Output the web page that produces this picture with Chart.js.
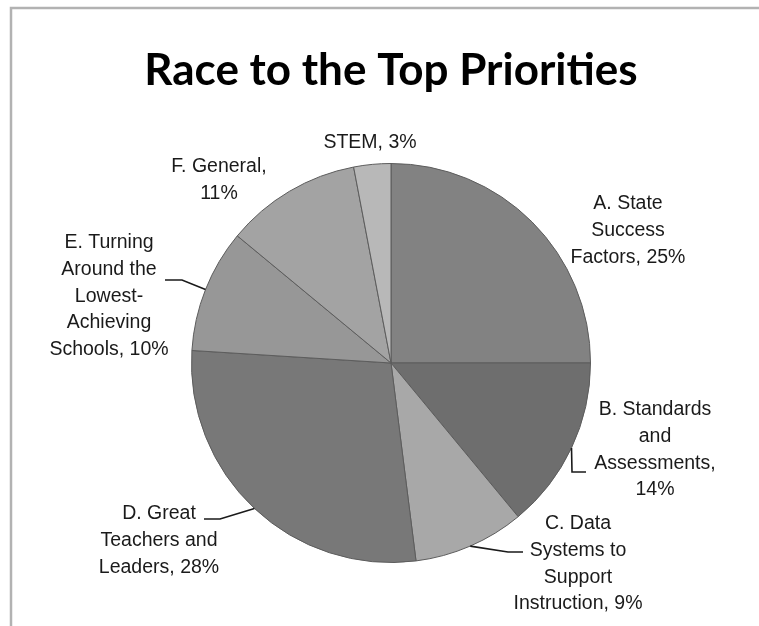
<!DOCTYPE html>
<html>
<head>
<meta charset="utf-8">
<script src="https://cdn.jsdelivr.net/npm/chart.js@4/dist/chart.umd.min.js"></script>
<style>
  body { margin: 0; background: #fff; }
  #wrap { width: 759px; height: 626px; }
</style>
</head>
<body>
<div id="wrap"><canvas id="pie" width="759" height="626"></canvas></div>
<script>
// chart data
const categories = [
  "A. State Success Factors",
  "B. Standards and Assessments",
  "C. Data Systems to Support Instruction",
  "D. Great Teachers and Leaders",
  "E. Turning Around the Lowest-Achieving Schools",
  "F. General",
  "STEM",
];
const percents = [25, 14, 9, 28, 10, 11, 3];
const titleText = "Race to the Top Priorities";

// grey fill for each slice
const sliceColors = ["#828282", "#6e6e6e", "#a8a8a8", "#787878", "#979797", "#a3a3a3", "#b8b8b8"];

// label text broken in lines like the original, with where to put them
const labelLines = [
  ["A. State", "Success", "Factors, 25%"],
  ["B. Standards", "and", "Assessments,", "14%"],
  ["C. Data", "Systems to", "Support", "Instruction, 9%"],
  ["D. Great", "Teachers and", "Leaders, 28%"],
  ["E. Turning", "Around the", "Lowest-", "Achieving", "Schools, 10%"],
  ["F. General,", "11%"],
  ["STEM, 3%"],
];
// x, first line y (middle), leader elbow and end (null = no leader)
const labelLayout = [
  { x: 628, y: 204, leader: null },
  { x: 655, y: 410, leader: [[572, 472], [586, 472]] },
  { x: 578, y: 524, leader: [[508, 552], [523, 552]] },
  { x: 159, y: 514, leader: [[220, 519], [204, 519]] },
  { x: 109, y: 243, leader: [[182, 280], [165, 280]] },
  { x: 219, y: 167, leader: null },
  { x: 370, y: 143, leader: null },
];
const lineGap = 26.7;

// frame + title + outside labels
const decorPlugin = {
  id: "decor",
  beforeDraw(chart) {
    const ctx = chart.ctx;
    ctx.save();
    ctx.strokeStyle = "#b2b2b2";
    ctx.lineWidth = 2.5;
    ctx.beginPath();
    ctx.moveTo(11, 626);
    ctx.lineTo(11, 8);
    ctx.lineTo(759, 8);
    ctx.stroke();
    ctx.restore();
  },
  afterDatasetsDraw(chart) {
    const ctx = chart.ctx;
    const meta = chart.getDatasetMeta(0);
    ctx.save();
    // title
    ctx.fillStyle = "#000";
    ctx.font = "bold 44px Lato";
    ctx.textAlign = "center";
    ctx.textBaseline = "alphabetic";
    ctx.fillText(titleText, 391, 85);

    ctx.font = "19.5px 'Liberation Sans'";
    ctx.textBaseline = "middle";
    ctx.fillStyle = "#1a1a1a";
    ctx.strokeStyle = "#1a1a1a";
    ctx.lineWidth = 1.6;
    meta.data.forEach((arc, i) => {
      const lay = labelLayout[i];
      labelLines[i].forEach((t, k) => {
        ctx.fillText(t, lay.x, lay.y + k * lineGap);
      });
      if (lay.leader) {
        const mid = (arc.startAngle + arc.endAngle) / 2;
        ctx.beginPath();
        ctx.moveTo(arc.x + Math.cos(mid) * arc.outerRadius, arc.y + Math.sin(mid) * arc.outerRadius);
        lay.leader.forEach((p) => ctx.lineTo(p[0], p[1]));
        ctx.stroke();
      }
    });
    ctx.restore();
  },
};

new Chart(document.getElementById("pie"), {
  type: "pie",
  plugins: [decorPlugin],
  data: {
    labels: categories,
    datasets: [
      {
        data: percents,
        backgroundColor: sliceColors,
        borderColor: "#5c5c5c",
        borderWidth: 1,
      },
    ],
  },
  options: {
    responsive: false,
    animation: false,
    layout: { padding: { top: 163, bottom: 63, left: 123, right: 100 } },
    plugins: {
      legend: { display: false },
      tooltip: { enabled: false },
      title: { display: false },
    },
  },
});
</script>
</body>
</html>
